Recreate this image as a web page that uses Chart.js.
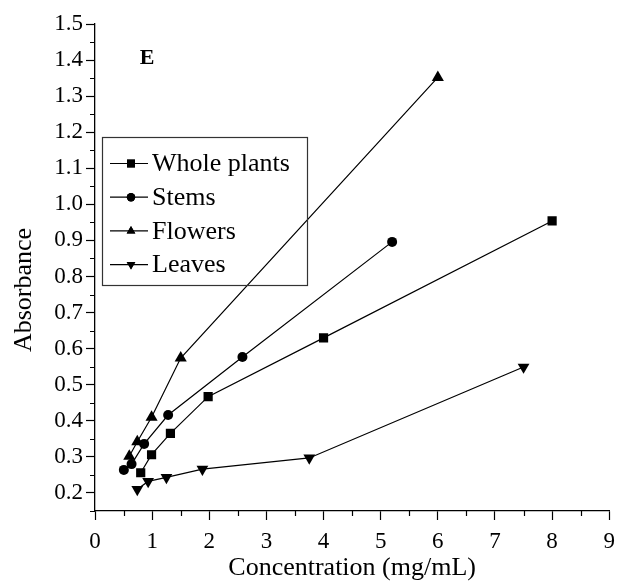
<!DOCTYPE html>
<html>
<head>
<meta charset="utf-8">
<script src="https://cdn.jsdelivr.net/npm/chart.js@4/dist/chart.umd.min.js"></script>
<style>
  html, body { margin: 0; padding: 0; background: #fff; }
  #wrap { width: 623px; height: 581px; }
</style>
</head>
<body>
<div id="wrap"><canvas id="chart" width="623" height="581"></canvas></div>
<script>
// 데이터
const seriesNames = ["Whole plants", "Stems", "Flowers", "Leaves"];
const wholeX = [0.8, 0.99, 1.32, 1.98, 4.0, 8.0];
const wholeY = [0.256, 0.306, 0.365, 0.467, 0.63, 0.954];
const stemsX = [0.505, 0.64, 0.86, 1.28, 2.58, 5.2];
const stemsY = [0.264, 0.28, 0.336, 0.416, 0.577, 0.896];
const flowersX = [0.6, 0.74, 0.99, 1.5, 6.0];
const flowersY = [0.302, 0.342, 0.41, 0.574, 1.352];
const leavesX = [0.74, 0.93, 1.25, 1.88, 3.75, 7.5];
const leavesY = [0.21, 0.232, 0.243, 0.266, 0.297, 0.549];

const xTicks = [0, 1, 2, 3, 4, 5, 6, 7, 8, 9];
const xMinor = [0.5, 1.5, 2.5, 3.5, 4.5, 5.5, 6.5, 7.5, 8.5];
const yTicks = [0.2, 0.3, 0.4, 0.5, 0.6, 0.7, 0.8, 0.9, 1.0, 1.1, 1.2, 1.3, 1.4, 1.5];
const yMinor = [0.15, 0.25, 0.35, 0.45, 0.55, 0.65, 0.75, 0.85, 0.95, 1.05, 1.15, 1.25, 1.35, 1.45];

const serif = "'Liberation Serif', 'Times New Roman', serif";

function toPoints(xs, ys) {
  return xs.map((x, i) => ({ x: x, y: ys[i] }));
}

// 마커 모양 (데이터용 / 범례용 반지름)
const markers = [
  { style: "rect", radius: 6.5, legendRadius: 5.6, rotation: 0 },
  { style: "circle", radius: 5, legendRadius: 4.2, rotation: 0 },
  { style: "triangle", radius: 7, legendRadius: 5, rotation: 0 },
  { style: "triangle", radius: 6.8, legendRadius: 5, rotation: 180 },
];

const allData = [
  toPoints(wholeX, wholeY),
  toPoints(stemsX, stemsY),
  toPoints(flowersX, flowersY),
  toPoints(leavesX, leavesY),
];

const datasets = seriesNames.map((name, i) => ({
  label: name,
  data: allData[i],
  showLine: true,
  borderColor: "#000",
  borderWidth: 1.2,
  backgroundColor: "#000",
  pointBackgroundColor: "#000",
  pointBorderColor: "#000",
  pointBorderWidth: 0,
  pointStyle: markers[i].style,
  pointRadius: markers[i].radius,
  pointRotation: markers[i].rotation,
}));

// 보조 눈금 그리기
const minorTicks = {
  id: "minorTicks",
  afterDraw(chart) {
    const { ctx, chartArea } = chart;
    const x = chart.scales.x;
    const y = chart.scales.y;
    ctx.save();
    ctx.strokeStyle = "#000";
    ctx.lineWidth = 1.2;
    ctx.beginPath();
    xMinor.forEach((v) => {
      const px = Math.round(x.getPixelForValue(v)) + 0.5;
      ctx.moveTo(px, chartArea.bottom);
      ctx.lineTo(px, chartArea.bottom + 5);
    });
    yMinor.forEach((v) => {
      const py = Math.round(y.getPixelForValue(v)) + 0.5;
      ctx.moveTo(chartArea.left, py);
      ctx.lineTo(chartArea.left - 5, py);
    });
    ctx.stroke();
    ctx.restore();
  },
};

// 범례 + 패널 라벨 + y축 제목
const boxLegend = {
  id: "boxLegend",
  afterDraw(chart) {
    const ctx = chart.ctx;
    ctx.save();
    ctx.strokeStyle = "#333";
    ctx.lineWidth = 1.2;
    ctx.strokeRect(102.5, 137.5, 205, 148);
    ctx.font = "26px " + serif;
    ctx.fillStyle = "#000";
    ctx.textBaseline = "middle";
    chart.data.datasets.forEach((ds, i) => {
      const cy = 163.5 + i * 33.7;
      ctx.beginPath();
      ctx.strokeStyle = "#000";
      ctx.lineWidth = 1.2;
      ctx.moveTo(110, cy);
      ctx.lineTo(148, cy);
      ctx.stroke();
      Chart.helpers.drawPoint(ctx, {
        pointStyle: markers[i].style,
        radius: markers[i].legendRadius,
        rotation: markers[i].rotation,
        borderWidth: 0,
      }, 131, cy);
      ctx.fillStyle = "#000";
      ctx.fill();
      ctx.fillText(ds.label, 152, cy + 1);
    });
    ctx.font = "bold 22px " + serif;
    ctx.textAlign = "center";
    ctx.fillText("E", 147, 58);

    ctx.translate(24, 290);
    ctx.rotate(-Math.PI / 2);
    ctx.font = "26px " + serif;
    ctx.fillText("Absorbance", 0, 0);
    ctx.restore();
  },
};

new Chart(document.getElementById("chart"), {
  type: "scatter",
  data: { datasets: datasets },
  options: {
    responsive: false,
    animation: false,
    layout: { padding: { top: 24, right: 12, left: 0, bottom: 0 } },
    plugins: { legend: { display: false }, tooltip: { enabled: false } },
    scales: {
      x: {
        type: "linear",
        min: 0,
        max: 9,
        afterBuildTicks: (s) => { s.ticks = xTicks.map((v) => ({ value: v })); },
        afterFit: (s) => { s.height = 70; },
        grid: { drawOnChartArea: false, tickLength: 9, tickColor: "#000", tickWidth: 1.2 },
        border: { color: "#000", width: 1.3 },
        ticks: { color: "#000", font: { family: serif, size: 23 }, padding: 8, maxRotation: 0 },
        title: { display: true, text: "Concentration (mg/mL)", color: "#000", font: { family: serif, size: 26, lineHeight: 1.0 }, padding: 0 },
      },
      y: {
        type: "linear",
        min: 0.15,
        max: 1.5,
        afterBuildTicks: (s) => { s.ticks = yTicks.map((v) => ({ value: v })); },
        afterFit: (s) => { s.width = 95; },
        grid: { drawOnChartArea: false, tickLength: 9, tickColor: "#000", tickWidth: 1.2 },
        border: { color: "#000", width: 1.3 },
        ticks: { color: "#000", font: { family: serif, size: 23 }, padding: 3, callback: (v) => Number(v).toFixed(1) },
      },
    },
  },
  plugins: [minorTicks, boxLegend],
});
</script>
</body>
</html>
